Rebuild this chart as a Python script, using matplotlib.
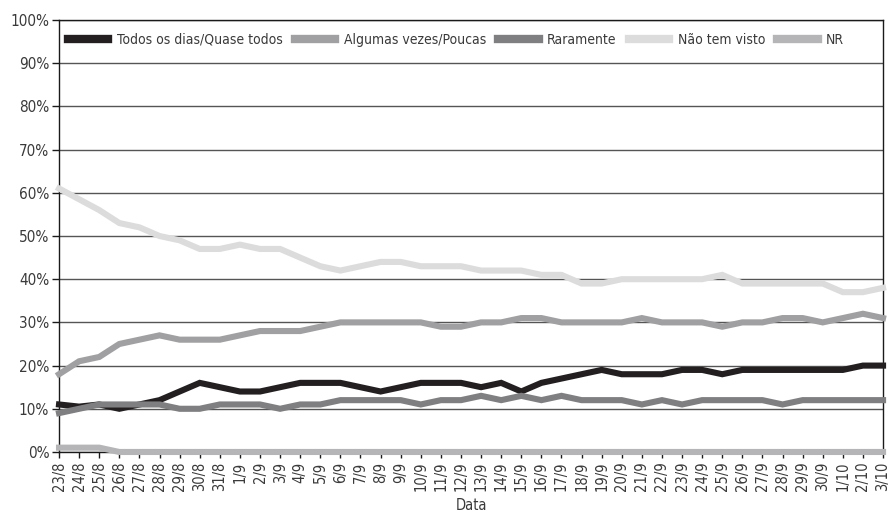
import matplotlib
matplotlib.use("Agg")
import matplotlib.pyplot as plt
from matplotlib.ticker import PercentFormatter, MultipleLocator

plt.rcParams['font.family'] = ['DejaVu Sans']
plt.rcParams['font.stretch'] = 'condensed'

# dates on the x axis
dates = ["23/8", "24/8", "25/8", "26/8", "27/8", "28/8", "29/8", "30/8", "31/8",
         "1/9", "2/9", "3/9", "4/9", "5/9", "6/9", "7/9", "8/9", "9/9", "10/9",
         "11/9", "12/9", "13/9", "14/9", "15/9", "16/9", "17/9", "18/9", "19/9",
         "20/9", "21/9", "22/9", "23/9", "24/9", "25/9", "26/9", "27/9", "28/9",
         "29/9", "30/9", "1/10", "2/10", "3/10"]

# percent values
todos = [11, 10.5, 11, 10, 11, 12, 14, 16, 15, 14, 14, 15, 16, 16, 16, 15, 14, 15,
         16, 16, 16, 15, 16, 14, 16, 17, 18, 19, 18, 18, 18, 19, 19, 18, 19, 19,
         19, 19, 19, 19, 20, 20]
algumas = [18, 21, 22, 25, 26, 27, 26, 26, 26, 27, 28, 28, 28, 29, 30, 30, 30, 30,
           30, 29, 29, 30, 30, 31, 31, 30, 30, 30, 30, 31, 30, 30, 30, 29, 30, 30,
           31, 31, 30, 31, 32, 31]
raramente = [9, 10, 11, 11, 11, 11, 10, 10, 11, 11, 11, 10, 11, 11, 12, 12, 12, 12,
             11, 12, 12, 13, 12, 13, 12, 13, 12, 12, 12, 11, 12, 11, 12, 12, 12, 12,
             11, 12, 12, 12, 12, 12]
nao_visto = [61, 58.5, 56, 53, 52, 50, 49, 47, 47, 48, 47, 47, 45, 43, 42, 43, 44, 44,
             43, 43, 43, 42, 42, 42, 41, 41, 39, 39, 40, 40, 40, 40, 40, 41, 39, 39,
             39, 39, 39, 37, 37, 38]
nr = [1, 1, 1] + [0] * 39

series = [
    ("Todos os dias/Quase todos", todos, "#231f20"),
    ("Algumas vezes/Poucas", algumas, "#a0a0a2"),
    ("Raramente", raramente, "#7f7f81"),
    ("Não tem visto", nao_visto, "#dcdcdd"),
    ("NR", nr, "#b5b5b7"),
]

text_color = "#3a3a3a"

fig = plt.figure(figsize=(8.89, 5.2), dpi=100)
ax = fig.add_axes([0.0664, 0.1308, 0.9269, 0.8307])

x = list(range(len(dates)))
for label, vals, color in series:
    ax.plot(x, vals, color=color, lw=4.4, label=label, solid_joinstyle='miter',
            clip_on=False, zorder=3)

ax.set_xlim(0, len(dates) - 1)
ax.set_ylim(0, 100)
ax.yaxis.set_major_locator(MultipleLocator(10))
ax.yaxis.set_major_formatter(PercentFormatter(decimals=0))
ax.set_xticks(x)
ax.set_xticklabels(dates, rotation=90)

ax.grid(axis='y', color='#555555', lw=1.0, zorder=1)
for side in ['left', 'right', 'top', 'bottom']:
    ax.spines[side].set_color('#1a1a1a')
    ax.spines[side].set_linewidth(1.0)

ax.tick_params(axis='y', length=5, width=1, colors='#1a1a1a', labelcolor=text_color,
               labelsize=11, pad=2)
ax.tick_params(axis='x', length=4, width=1, colors='#1a1a1a', labelcolor=text_color,
               labelsize=10.5, pad=3)

ax.set_xlabel("Data", fontsize=10.5, color=text_color, labelpad=5)

leg = ax.legend(loc='upper center', bbox_to_anchor=(0.482, 1.0), ncol=5, frameon=False,
                fontsize=10, handlelength=2.9, columnspacing=0.9, handletextpad=0.6,
                borderaxespad=0.5)
for t in leg.get_texts():
    t.set_color(text_color)
for h in leg.get_lines():
    h.set_linewidth(6)

fig.savefig("out.png", dpi=100)
